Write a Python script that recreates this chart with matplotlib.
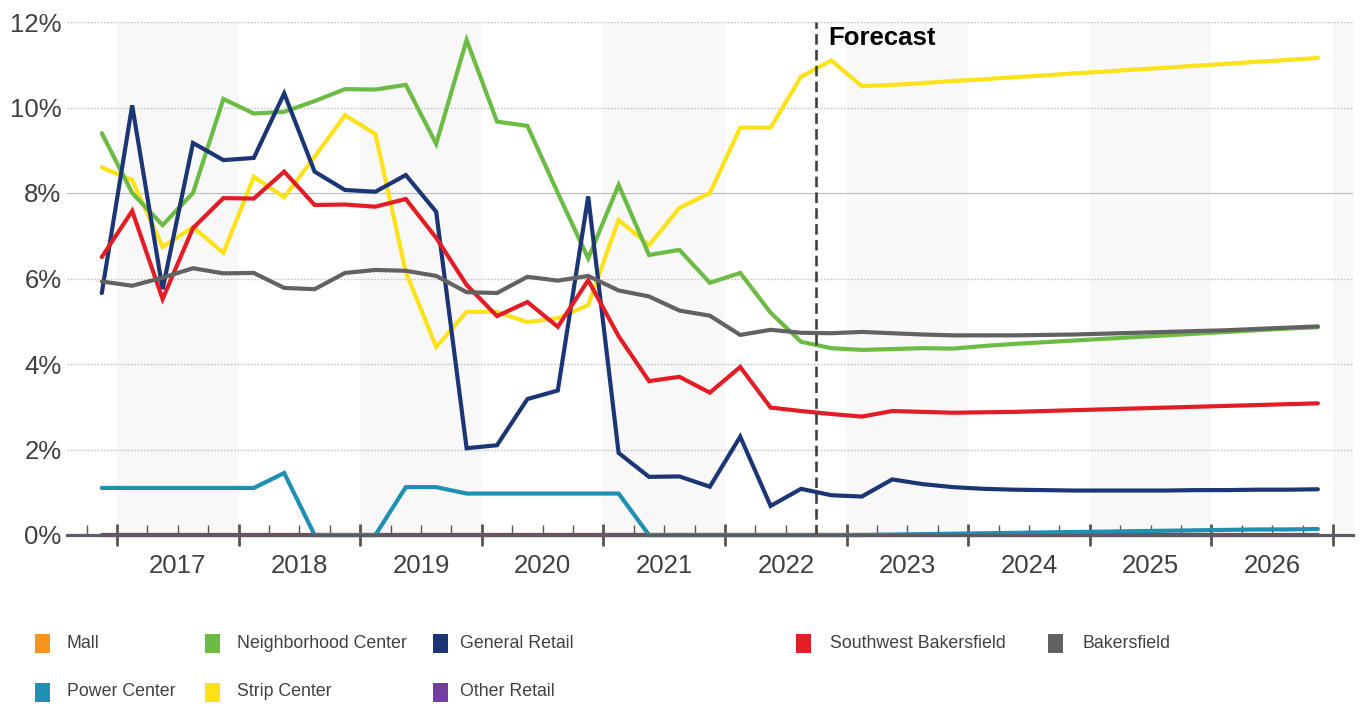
import numpy as np
import pandas as pd
import matplotlib
matplotlib.use("Agg")
import matplotlib.pyplot as plt
from matplotlib.patches import Rectangle
from matplotlib.transforms import blended_transform_factory

plt.rcParams["font.family"] = ["Liberation Sans", "DejaVu Sans"]

# quarterly vacancy rates, 2016 Q4 through 2026 Q4 (forecast from 2022 Q4)
quarters = pd.period_range("2016Q4", "2026Q4", freq="Q")

neighborhood = [9.40, 8.00, 7.25, 8.00, 10.20, 9.86, 9.90, 10.15, 10.43, 10.42, 10.53,
                9.15, 11.58, 9.67, 9.57, 8.00, 6.47, 8.19, 6.55, 6.67, 5.90, 6.13,
                5.20, 4.52, 4.37, 4.33, 4.35, 4.37, 4.36, 4.42, 4.47, 4.51, 4.55,
                4.59, 4.63, 4.67, 4.71, 4.75, 4.79, 4.83, 4.86]
general_retail = [5.66, 10.05, 5.75, 9.17, 8.77, 8.82, 10.33, 8.50, 8.07, 8.03, 8.42,
                  7.56, 2.03, 2.10, 3.18, 3.38, 7.92, 1.92, 1.36, 1.37, 1.13, 2.30,
                  0.68, 1.08, 0.93, 0.90, 1.30, 1.19, 1.12, 1.08, 1.06, 1.05, 1.04,
                  1.04, 1.04, 1.04, 1.05, 1.05, 1.06, 1.06, 1.07]
southwest = [6.50, 7.58, 5.52, 7.18, 7.88, 7.87, 8.50, 7.72, 7.73, 7.68, 7.86,
             6.95, 5.85, 5.12, 5.45, 4.87, 5.96, 4.65, 3.60, 3.70, 3.33, 3.93,
             2.98, 2.90, 2.83, 2.77, 2.90, 2.88, 2.86, 2.87, 2.88, 2.90, 2.92,
             2.94, 2.96, 2.98, 3.00, 3.02, 3.04, 3.06, 3.08]
bakersfield = [5.93, 5.83, 6.02, 6.24, 6.12, 6.13, 5.78, 5.75, 6.13, 6.20, 6.18,
               6.06, 5.68, 5.66, 6.04, 5.95, 6.06, 5.72, 5.58, 5.25, 5.13, 4.68,
               4.80, 4.73, 4.72, 4.75, 4.72, 4.69, 4.67, 4.67, 4.67, 4.68, 4.69,
               4.71, 4.73, 4.75, 4.77, 4.79, 4.82, 4.85, 4.88]
strip = [8.60, 8.30, 6.74, 7.20, 6.60, 8.38, 7.90, 8.85, 9.82, 9.38, 6.15,
         4.40, 5.22, 5.22, 4.98, 5.07, 5.38, 7.37, 6.78, 7.65, 8.00, 9.53,
         9.53, 10.72, 11.10, 10.50, 10.53, 10.57, 10.62, 10.66, 10.71, 10.75, 10.80,
         10.84, 10.89, 10.93, 10.98, 11.02, 11.07, 11.11, 11.16]
power = [1.10, 1.10, 1.10, 1.10, 1.10, 1.10, 1.45, 0.00, 0.00, 0.00, 1.12,
         1.12, 0.97, 0.97, 0.97, 0.97, 0.97, 0.97, 0.00, 0.00, 0.00, 0.00,
         0.00, 0.00, 0.00, 0.00, 0.01, 0.02, 0.03, 0.04, 0.05, 0.06, 0.07,
         0.08, 0.09, 0.10, 0.11, 0.12, 0.13, 0.13, 0.14]
mall = [0.0] * len(quarters)
other_retail = [0.0] * len(quarters)

forecast_start = 2022.75
years = list(range(2017, 2027))

C_MALL = "#f7941d"
C_NEIGH = "#6cbb45"
C_GEN = "#1c3574"
C_SW = "#e31d25"
C_BAK = "#626262"
C_POWER = "#1f8fb2"
C_STRIP = "#fde21a"
C_OTHER = "#7340a0"
TXT = "#404040"

x = quarters.year + (quarters.quarter - 1) / 4 + 0.125

W, H = 1362, 707
fig = plt.figure(figsize=(W / 100, H / 100), dpi=100)
ax = fig.add_axes([67 / W, 1 - 535 / H, (1353 - 67) / W, (535 - 22) / H])
ax.set_xlim(2016.589, 2027.164)
ax.set_ylim(0, 12)

# faint alternating year bands
for yr in range(2017, 2028, 2):
    ax.axvspan(yr, yr + 1, color="#f8f8f8", lw=0, zorder=0)

# horizontal grid
for v in [2, 4, 6, 10, 12]:
    ax.axhline(v, color="#c4c4c4", lw=1.0, ls=(0, (1.2, 1.2)), zorder=1)
ax.axhline(8, color="#bdbdbd", lw=0.8, zorder=1)

series = [
    (strip, C_STRIP, 3),
    (neighborhood, C_NEIGH, 3),
    (general_retail, C_GEN, 3),
    (southwest, C_SW, 3),
    (bakersfield, C_BAK, 3),
    (power, C_POWER, 3),
    (mall, C_MALL, 2),
    (other_retail, C_OTHER, 2),
]
for vals, col, z in series:
    ax.plot(x, vals, color=col, lw=3.0, solid_joinstyle="miter",
            solid_capstyle="round", clip_on=False, zorder=z)

# forecast divider
ax.axvline(forecast_start, color="#3f3f3f", lw=1.9, ls=(0, (4, 2)), zorder=4)
ax.text(forecast_start + 0.1, 11.63, "Forecast", fontsize=18.5, fontweight="bold",
        color="black", ha="left", va="center")

for s in ["top", "right", "left"]:
    ax.spines[s].set_visible(False)
ax.spines["bottom"].set_color("#5f5a66")
ax.spines["bottom"].set_linewidth(2.3)
ax.spines["bottom"].set_zorder(5)

ax.set_yticks(range(0, 13, 2))
ax.set_yticklabels([f"{v}%" for v in range(0, 13, 2)], fontsize=18.5, color=TXT)
ax.tick_params(axis="y", length=0, pad=4)

ax.set_xticks(range(2017, 2028))
ax.set_xticklabels([])
minor = [q for q in np.arange(2016.75, 2027, 0.25) if q % 1 != 0]
ax.set_xticks(minor, minor=True)
ax.tick_params(axis="x", which="major", direction="inout", length=16, width=2.0,
               color="#555555")
ax.tick_params(axis="x", which="minor", direction="in", length=7, width=1.0,
               color="#555555")

trans = blended_transform_factory(ax.transData, ax.transAxes)
for yr in years:
    ax.text(yr + 0.5, -0.06, str(yr), transform=trans, fontsize=18.5, color=TXT,
            ha="center", va="center")

# legend laid out on a fixed grid
legend_rows = [
    [("Mall", C_MALL, 42, 67), ("Neighborhood Center", C_NEIGH, 212, 237),
     ("General Retail", C_GEN, 440, 460), ("Southwest Bakersfield", C_SW, 803, 830),
     ("Bakersfield", C_BAK, 1055, 1082)],
    [("Power Center", C_POWER, 42, 67), ("Strip Center", C_STRIP, 212, 237),
     ("Other Retail", C_OTHER, 440, 460)],
]
row_y = [643, 692]
for row, yc in zip(legend_rows, row_y):
    for name, col, mx, tx in row:
        fig.add_artist(Rectangle(((mx - 7.5) / W, 1 - (yc + 9.5) / H), 15 / W, 19 / H,
                                 transform=fig.transFigure, color=col, lw=0))
        fig.text(tx / W, 1 - yc / H, name, fontsize=12.8, color=TXT, ha="left",
                 va="center")

fig.savefig("out.png", dpi=100, facecolor="white")
